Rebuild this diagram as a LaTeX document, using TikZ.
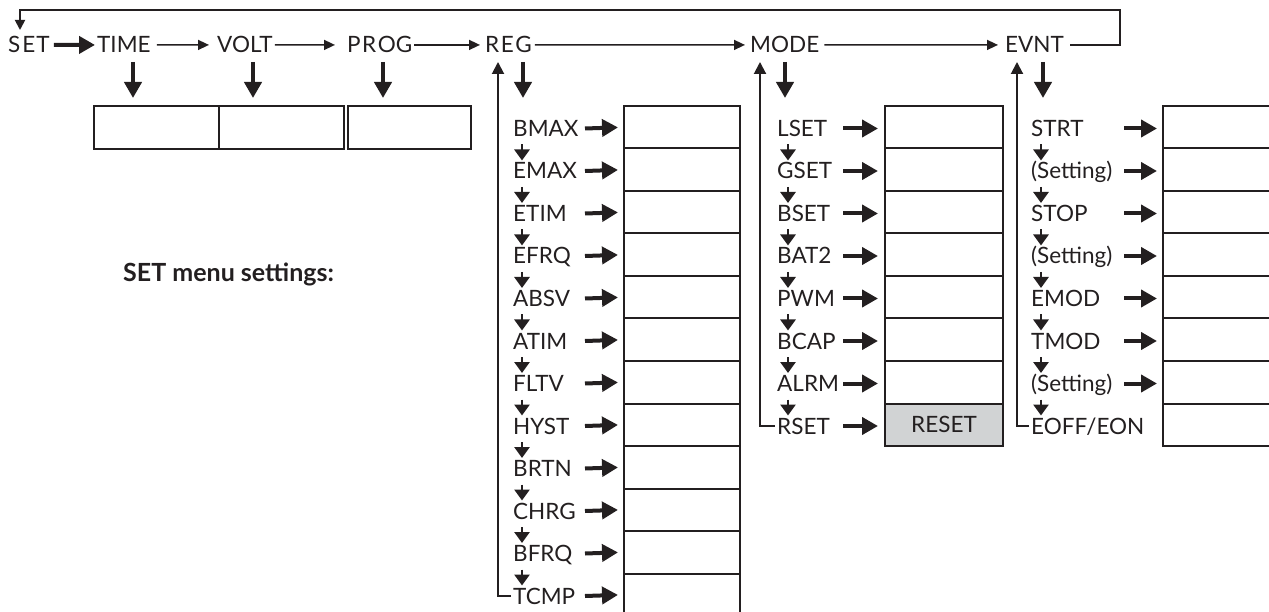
\documentclass[tikz,border=0pt]{standalone}
\usepackage{fontspec}
\setmainfont{Lato}
\usetikzlibrary{arrows.meta}
\definecolor{ink}{HTML}{231F20}
\definecolor{resetgray}{HTML}{D1D3D4}
\begin{document}
\begin{tikzpicture}[x=1pt,y=-1pt,
  lbl/.style={anchor=base west, inner sep=0pt, font=\fontsize{22.5}{26}\selectfont, text=ink},
  cell/.style={draw=ink, line width=2pt, anchor=north west, inner sep=0pt, minimum height=42.5pt},
  thick arrow/.style={draw=ink, line width=4pt, -{Triangle[length=16pt,width=17pt]}},
  thin arrow/.style={draw=ink, line width=1.5pt, -{Triangle[length=11pt,width=10pt]}},
  small arrow/.style={draw=ink, line width=2.8pt, -{Triangle[length=11pt,width=15pt]}},
  back line/.style={draw=ink, line width=2pt, -{Triangle[length=12pt,width=12pt]}},
  loop line/.style={draw=ink, line width=1.8pt, -{Triangle[length=10pt,width=10pt]}},
]
\useasboundingbox (0,0) rectangle (1269,612);

% top row
\node[lbl] (set)  at (8,53)    {S\kern2pt E\kern1pt T};
\node[lbl] (time) at (97,53)   {TIME};
\node[lbl] (volt) at (217,53)  {VOLT};
\node[lbl] (prog) at (347,53)  {P\kern1.5pt R\kern1.5pt OG};
\node[lbl] (reg)  at (485,53)  {R\kern1.5pt E\kern1.5pt G};
\node[lbl] (mode) at (750,53)  {MODE};
\node[lbl] (evnt) at (1005,53) {EVNT};

\draw[thick arrow, shorten <=4pt, shorten >=2pt] (set) -- (time);
\draw[thin arrow, shorten <=6pt, shorten >=8pt] (time) -- (volt);
\draw[thin arrow, shorten <=2pt, shorten >=12pt] (volt) -- (prog);
\draw[thin arrow, shorten <=2pt, shorten >=5pt] (prog) -- (reg);
\draw[thin arrow, shorten <=3pt, shorten >=5pt] (reg) -- (mode);
\draw[thin arrow, shorten <=5pt, shorten >=7pt] (mode) -- (evnt);

\coordinate (loopR) at (1120,10);
\coordinate (loopL) at (20,10);
\coordinate (loopT) at (20,30);
\draw[loop line] ([xshift=6pt]evnt.east) -| (loopR) -- (loopL) -- (loopT);

% top boxes
\node[cell, minimum width=125pt, minimum height=43pt] (tb1) at (93,105) {};
\node[cell, minimum width=125pt, minimum height=43pt] (tb2) at (218,105) {};
\node[cell, minimum width=123pt, minimum height=43pt] (tb3) at (347,105) {};
\draw[thick arrow] (133,62) -- (133,98);
\draw[thick arrow] (253,62) -- (253,98);
\draw[thick arrow] (383,62) -- (383,98);

% REG column
\foreach \lab [count=\i from 0] in {BMAX,EMAX,ETIM,EFRQ,ABSV,ATIM,FLTV,HYST,BRTN,CHRG,BFRQ,TCMP} {
  \pgfmathsetmacro\yc{128.5+42.5*\i}
  \node[lbl] (r\i) at (513,\yc+8) {\lab};
  \node[cell, minimum width=116pt] (rb\i) at (623,105+42.5*\i) {};
  \draw[thick arrow, shorten >=5pt] (585,\yc) -- (rb\i.west);
}
\foreach \i in {0,...,10} {
  \draw[small arrow] (522,128.5+42.5*\i+16) -- (522,128.5+42.5*\i+32);
}
\draw[thick arrow] (523,62) -- (523,98);
\draw[back line] ([shift={(-2,-8)}]r11.base west) -| (498,62);

% MODE column
\foreach \lab [count=\i from 0] in {LSET,GSET,BSET,BAT2,PWM,BCAP,ALRM,RSET} {
  \pgfmathsetmacro\yc{128.5+42.5*\i}
  \node[lbl] (m\i) at (777,\yc+8) {\lab};
  \node[cell, minimum width=118pt] (mb\i) at (884,105+42.5*\i) {};
  \draw[thick arrow, shorten >=6pt] (843,\yc) -- (mb\i.west |- 0,\yc);
}
\node[cell, minimum width=118pt, fill=resetgray, anchor=north west, font=\fontsize{22.5}{26}\selectfont, text=ink] (mb7) at (884,105+42.5*7) {RESET};
\foreach \i in {0,...,6} {
  \draw[small arrow] (788,128.5+42.5*\i+16) -- (788,128.5+42.5*\i+32);
}
\draw[thick arrow] (785,62) -- (785,98);
\draw[back line] ([shift={(-2,-8)}]m7.base west) -| (760,62);

% EVNT column
\foreach \lab [count=\i from 0] in {STRT,(Setting),STOP,(Setting),EMOD,TMOD,(Setting),EOFF/EON} {
  \pgfmathsetmacro\yc{128.5+42.5*\i}
  \node[lbl] (e\i) at (1031,\yc+8) {\lab};
  \node[cell, minimum width=130pt] (eb\i) at (1162,105+42.5*\i) {};
}
\foreach \i in {0,...,6} {
  \draw[thick arrow, shorten >=5pt] (1124,128.5+42.5*\i) -- (eb\i.west |- 0,128.5+42.5*\i);
  \draw[small arrow] (1041,128.5+42.5*\i+16) -- (1041,128.5+42.5*\i+32);
}
\draw[thick arrow] (1043,62) -- (1043,98);
\draw[back line] ([shift={(-2,-8)}]e7.base west) -| (1017,62);

% caption
\node[lbl, font=\bfseries\fontsize{25}{29}\selectfont] (cap) at (123,282) {SET menu settings:};
\end{tikzpicture}
\end{document}
